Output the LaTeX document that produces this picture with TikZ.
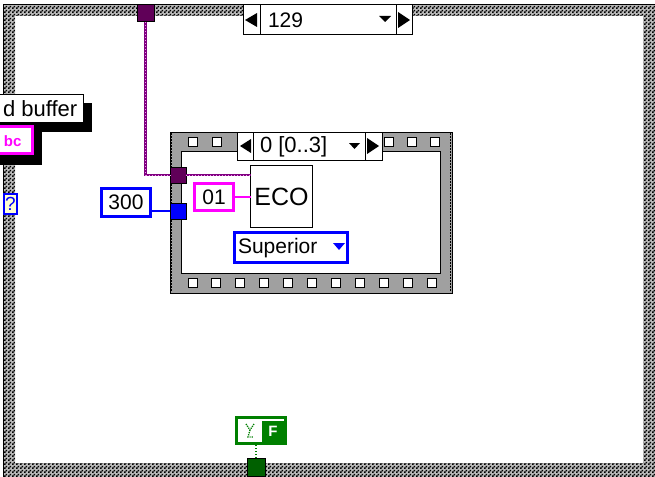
\documentclass[tikz,border=0pt]{standalone}
\usepackage{fontspec}
\setmainfont{Liberation Sans}
\usetikzlibrary{patterns}
\pgfdeclarepatternformonly{fcheck}{\pgfqpoint{0pt}{0pt}}{\pgfqpoint{4pt}{4pt}}{\pgfqpoint{4pt}{4pt}}{%
  \pgfpathrectangle{\pgfqpoint{0pt}{0pt}}{\pgfqpoint{2pt}{2pt}}%
  \pgfpathrectangle{\pgfqpoint{2pt}{2pt}}{\pgfqpoint{2pt}{2pt}}%
  \pgfusepath{fill}}
\definecolor{lvtun}{RGB}{96,0,88}
\definecolor{lvwire}{RGB}{128,0,128}
\definecolor{lvdot}{RGB}{235,150,235}
\definecolor{lvblue}{RGB}{0,0,255}
\definecolor{lvmag}{RGB}{255,0,255}
\definecolor{lvgreen}{RGB}{0,128,0}
\definecolor{lvdkgreen}{RGB}{0,96,0}
\definecolor{lvyellow}{RGB}{255,255,210}
\definecolor{casegray}{RGB}{160,160,160}
\begin{document}
\begin{tikzpicture}[x=1pt,y=-1pt,font=\fontsize{21}{24}\selectfont,
  bx/.style={draw, inner sep=0pt, outer sep=0pt, anchor=north west, fill=white},
  thickbox/.style={bx, line width=3pt},
  tunnel/.style={bx, line width=1pt, minimum width=16pt, minimum height=16pt},
  hole/.style={draw=black, fill=white, line width=1pt},
  txt/.style={anchor=west, inner sep=0pt, outer sep=0pt},
  clusterwire/.style={draw=lvwire, line width=2.8pt,
     postaction={draw=lvdot, line width=0.9pt, dash pattern=on 1pt off 2pt}},
  bluewire/.style={draw=lvblue, line width=1.2pt},
  pinkwire/.style={draw=lvmag, line width=1.4pt},
  boolwire/.style={draw=lvgreen, line width=1.6pt, dash pattern=on 1.5pt off 1.5pt}]
\useasboundingbox (0,0) rectangle (655,476);
\fill[white] (0,0) rectangle (655,476);
\clip (0,0) rectangle (655,476);

% outer loop frame (checker border)
\fill[gray!55, even odd rule] (3,5) rectangle (662,483) (15,16) rectangle (643,463);
\fill[pattern=fcheck, pattern color=black, even odd rule] (3,5) rectangle (662,483) (15,16) rectangle (643,463);
\draw[black, line width=1pt] (3,483) -- (3,5) -- (662,5);

% top selector "129"
\node[bx, line width=1pt, minimum width=169pt, minimum height=30pt] (sel) at (243,5) {};
\draw[line width=1pt] (260,5) -- (260,35) (396,5) -- (396,35);
\fill (257,13) -- (245,20) -- (257,27) -- cycle;
\fill (398,12) -- (410,20) -- (398,28) -- cycle;
\fill (379,16) -- (391,16) -- (385,22) -- cycle;
\node[txt] (seltxt) at (268,20) {129};

% top tunnel
\node[tunnel, fill=lvtun, minimum width=17pt, minimum height=17pt] (tp) at (137,5) {};

% left cluster: label with shadow
\fill[black] (8,103) rectangle (92,132);
\fill[black] (-5,122) rectangle (42,165);
\node[bx, line width=1pt, minimum width=93pt, minimum height=27pt] (lbl) at (-10,95) {};
\node[txt, font=\fontsize{22}{24}\selectfont] (lbltxt) at (3,109) {d buffer};
\node[thickbox, draw=lvmag, minimum width=35pt, minimum height=27pt] (pk) at (-3,126.5) {};
\node[txt, text=lvmag, font=\bfseries\fontsize{15}{16}\selectfont] (pktxt) at (4,141) {bc};

% "?" terminal on frame
\node[bx, draw=lvblue, fill=lvyellow, line width=2pt, minimum width=13pt, minimum height=20pt,
      text=lvblue, font=\fontsize{19}{20}\selectfont] (q) at (4,194) {?};

% numeric constant 300
\node[thickbox, draw=lvblue, minimum width=49pt, minimum height=28pt] (n300) at (101.5,188.5) {300};

% sequence structure (film strip)
\node[bx, fill=casegray, line width=1pt, minimum width=282pt, minimum height=161pt] (case) at (170,132) {};
\node[bx, line width=1pt, minimum width=259pt, minimum height=122pt] (casein) at (181,151) {};
\draw[black, line width=1.2pt, dash pattern=on 1.5pt off 1.5pt] (171.5,133) -- (171.5,292);
\draw[black, line width=1.2pt, dash pattern=on 1.5pt off 1.5pt] (450.5,133) -- (450.5,292);
\foreach \x in {188,212,384,407,430} \draw[hole] (\x,137) rectangle +(9,9);
\foreach \i in {0,...,10} \draw[hole] ({188+23.9*\i},278) rectangle +(9,9);

% case selector
\node[bx, line width=1pt, minimum width=145pt, minimum height=28pt] (csel) at (237,132) {};
\draw[line width=1pt] (253,132) -- (253,160) (365,132) -- (365,160);
\fill (251,139) -- (240,146) -- (251,153) -- cycle;
\fill (367,138) -- (379,146) -- (367,154) -- cycle;
\fill (349,143) -- (360,143) -- (354.5,149) -- cycle;
\node[txt, font=\fontsize{22}{24}\selectfont] (cseltxt) at (260,147) {0 [0..3]};

% tunnels on the sequence border
\node[tunnel, fill=lvtun] (tc) at (170,167) {};
\node[tunnel, fill=lvblue] (tb) at (170,203) {};

% ECO subVI
\node[bx, line width=1pt, minimum width=62pt, minimum height=62pt, font=\fontsize{25}{26}\selectfont] (eco) at (250.5,165.5) {ECO};

% "01" string constant
\node[thickbox, draw=lvmag, minimum width=39pt, minimum height=27pt] (n01) at (194.5,183.5) {01};

% enum "Superior"
\node[thickbox, draw=lvblue, minimum width=113pt, minimum height=30pt] (sup) at (234.5,232.5) {};
\node[txt] (suptxt) at (238,248) {Superior};
\fill[lvblue] (333,243) -- (345,243) -- (339,250) -- cycle;

% boolean constant and tunnel at bottom
\node[thickbox, draw=lvgreen, minimum width=49pt, minimum height=26pt] (gb) at (236.5,417.5) {};
\fill[lvgreen] (262,421) rectangle (283.5,441.5);
\node[inner sep=0pt, text=white, font=\bfseries\fontsize{15}{16}\selectfont] (gbF) at (273,431.5) {F};
\draw[lvgreen, line width=1.3pt, dash pattern=on 1.2pt off 1pt] (246,424) -- (250,430) -- (254,424) (250,430) -- (248,437) -- (253,437);
\node[tunnel, fill=lvdkgreen, minimum width=18pt, minimum height=18pt] (tg) at (247,458) {};

% wires
\draw[clusterwire] (tp.south) -- (tp.south |- tc.west) -- (tc.west);
\draw[clusterwire] (tc.east) -- (tc.east -| eco.west);
\draw[bluewire] (tb.west) -- (tb.west -| n300.east);
\draw[pinkwire] (n01.east) -- (n01.east -| eco.west);
\draw[boolwire] (tg.north) -- (tg.north |- gb.south);
\end{tikzpicture}
\end{document}
